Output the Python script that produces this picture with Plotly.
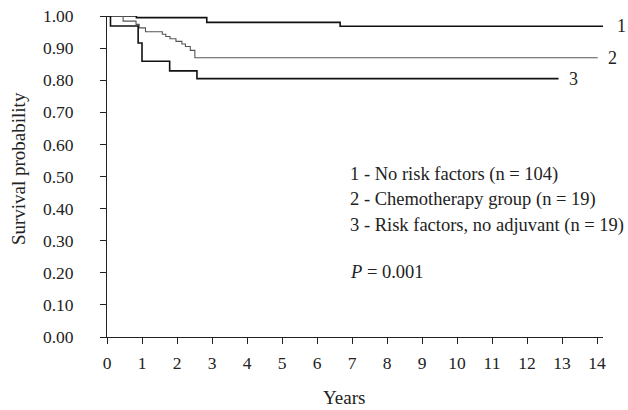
import plotly.graph_objects as go

# Kaplan-Meier step data (years, survival probability)
years_1 = [0, 0.84, 2.85, 6.66, 14.27]
surv_1 = [1.0, 0.995, 0.980, 0.968, 0.968]

years_2 = [0, 0.46, 0.83, 0.92, 1.10, 1.58, 1.68, 1.80, 1.97, 2.14, 2.24, 2.38, 2.51, 14.02]
surv_2 = [1.0, 0.984, 0.974, 0.963, 0.951, 0.943, 0.936, 0.929, 0.921, 0.913, 0.905, 0.893, 0.870, 0.870]

years_3 = [0, 0.10, 0.89, 1.00, 1.79, 2.57, 12.90]
surv_3 = [1.0, 0.969, 0.916, 0.859, 0.829, 0.805, 0.805]

curve_labels = ["1", "2", "3"]
legend_lines = [
    "1 - No risk factors (n = 104)",
    "2 - Chemotherapy group (n = 19)",
    "3 - Risk factors, no adjuvant (n = 19)",
]
p_text = "<i>P</i> = 0.001"

x_ticks = list(range(0, 15))
y_ticks = [i / 10 for i in range(11)]
y_ticktext = [f"{v:.2f}" for v in y_ticks]

X_RANGE = [0, 14.17]
FONT = "Liberation Serif, Times New Roman, serif"

fig = go.Figure()
series = [
    (years_1, surv_1, "#111111", 1.6),
    (years_2, surv_2, "#555555", 1.1),
    (years_3, surv_3, "#111111", 1.6),
]
for (xs, ys, col, w), lab in zip(series, curve_labels):
    fig.add_trace(go.Scatter(x=xs, y=ys, mode="lines", line=dict(shape="hv", color=col, width=w),
                             cliponaxis=False, showlegend=False, hoverinfo="skip"))
    # label at the end of each curve (paper coords so it may sit beyond the axis range)
    fig.add_annotation(xref="paper", yref="y",
                       x=(xs[-1] - X_RANGE[0]) / (X_RANGE[1] - X_RANGE[0]), y=ys[-1],
                       text=lab, showarrow=False, xanchor="left", yanchor="middle",
                       xshift=8, font=dict(family=FONT, size=18, color="#222"))

legend_y = [0.505, 0.427, 0.346]
for txt, yy in zip(legend_lines, legend_y):
    fig.add_annotation(x=6.89, y=yy, text=txt, showarrow=False, xanchor="left", yanchor="middle",
                       font=dict(family=FONT, size=18.5, color="#222"))
fig.add_annotation(x=6.89, y=0.201, text=p_text, showarrow=False, xanchor="left", yanchor="middle",
                   font=dict(family=FONT, size=18.5, color="#222"))

# axis titles
fig.add_annotation(xref="paper", yref="paper", x=(344 - 107) / 496.6, y=-(398 - 337.3) / 321.6,
                   text="Years", showarrow=False, xanchor="center", yanchor="middle",
                   font=dict(family=FONT, size=19, color="#222"))
fig.add_annotation(xref="paper", yref="paper", x=-(107 - 18) / 496.6, y=1 - (169 - 15.7) / 321.6,
                   text="Survival probability", showarrow=False, textangle=-90,
                   xanchor="center", yanchor="middle",
                   font=dict(family=FONT, size=19, color="#222"))

fig.update_layout(
    width=628, height=410,
    margin=dict(l=107, r=24.7, t=15.7, b=72.7, autoexpand=False),
    paper_bgcolor="white", plot_bgcolor="white",
    font=dict(family=FONT, size=17, color="#222"),
    xaxis=dict(range=X_RANGE, tickvals=x_ticks, ticks="outside", ticklen=6, tickcolor="#222",
               showline=True, linecolor="#222", linewidth=1, showgrid=False, zeroline=False,
               automargin=False, ticklabelstandoff=4,
               tickfont=dict(family=FONT, size=17.5, color="#222")),
    yaxis=dict(range=[0, 1], tickvals=y_ticks, ticktext=y_ticktext, ticks="outside", ticklen=6,
               tickcolor="#222", showline=True, linecolor="#222", linewidth=1, showgrid=False,
               zeroline=False, automargin=False, ticklabelstandoff=23,
               tickfont=dict(family=FONT, size=17.5, color="#222")),
)

fig.write_html("out.html", config={"displayModeBar": False},
               post_script="document.body.style.margin='0';document.body.style.overflow='hidden';")
